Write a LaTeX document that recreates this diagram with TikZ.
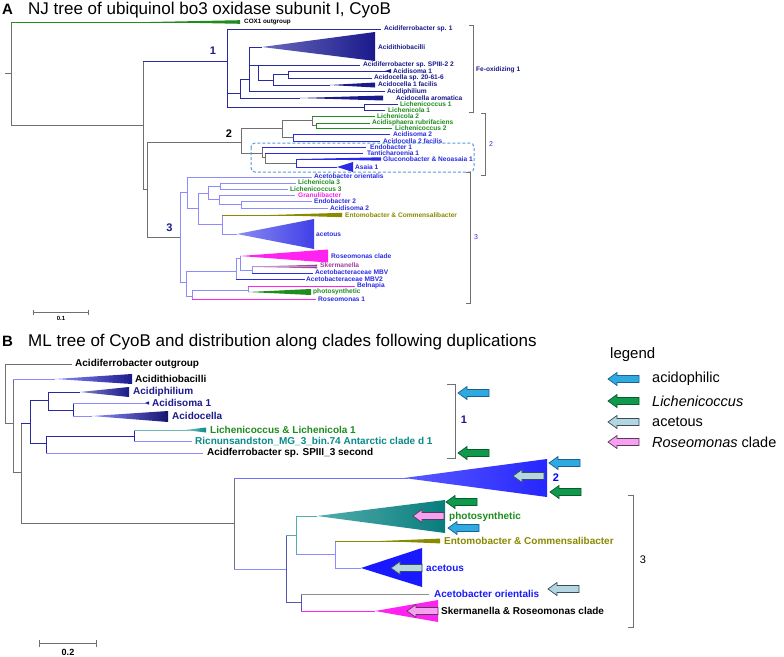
\documentclass[tikz,border=0pt]{standalone}
\usepackage{fontspec}
\setmainfont{Liberation Sans}
\definecolor{gr}{HTML}{707070}
\definecolor{nv}{HTML}{2A2AA0}
\definecolor{nvT}{HTML}{1A1A8C}
\definecolor{clt}{HTML}{8C8CFF}
\definecolor{bl}{HTML}{2B2BE6}
\definecolor{grn}{HTML}{1E8C1E}
\definecolor{mag}{HTML}{FF22F0}
\definecolor{olv}{HTML}{8A8A00}
\definecolor{tea}{HTML}{0A8A8A}
\definecolor{purp}{HTML}{A040A0}
\definecolor{dbox}{HTML}{5A9BD5}
\definecolor{acidF}{HTML}{2EAAE1}
\definecolor{acidD}{HTML}{1D5F8F}
\definecolor{lichF}{HTML}{0E9A4A}
\definecolor{lichD}{HTML}{0A5A30}
\definecolor{aceF}{HTML}{B4D6E0}
\definecolor{aceD}{HTML}{3A4A5A}
\definecolor{roseF}{HTML}{F7A0F2}
\definecolor{roseD}{HTML}{5A3A5A}
\newcommand\bkarrow[4]{\draw[fill=#3,draw=#4,line width=0.7pt,line join=miter] (#1,#2) -- ++(9,-6.5) -- ++(0,3) -- ++(22,0) -- ++(0,7) -- ++(-22,0) -- ++(0,3) -- cycle;}
\begin{document}
\begin{tikzpicture}[x=1pt,y=-1pt,
  ln/.style={line width=0.9pt},
  lb/.style={line width=1pt},
  labA/.style={anchor=west,inner sep=0pt,font=\bfseries\fontsize{6.6}{6.6}\selectfont},
  labB/.style={anchor=west,inner sep=0pt,font=\bfseries\fontsize{10}{10}\selectfont},
  brk/.style={gr,line width=0.7pt},
  cnum/.style={inner sep=0pt,font=\bfseries\fontsize{11}{11}\selectfont},
  legt/.style={anchor=west,inner sep=0pt,font=\fontsize{14.5}{15}\selectfont}]
\useasboundingbox (0,0) rectangle (784,656);
\fill[white] (0,0) rectangle (784,656);

% ================= Panel A =================
\node[anchor=base west,inner sep=0pt,font=\bfseries\fontsize{15}{15}\selectfont] (tA) at (2,14) {A};
\node[anchor=base west,inner sep=0pt,font=\fontsize{17}{17}\selectfont] (ttA) at (28,14) {NJ tree of ubiquinol bo3 oxidase subunit I, CyoB};

\draw[ln,gr] (5,73) -- (11,73);
\draw[ln,gr] (11,22) -- (11,125);
\draw[ln,grn] (11,22) -- (240,22);
\fill[grn] (150,22) -- (240,20.2) -- (240,23.8) -- cycle;
\node[labA,font=\bfseries\fontsize{6.3}{6.3}\selectfont] (cox) at (244,22) {COX1 outgroup};
\draw[ln,gr] (11,125) -- (143,125);
\draw[ln,gr] (143,61) -- (143,189);
\draw[ln,gr] (143,189) -- (147,189);
\draw[ln,gr] (147,142) -- (147,237);

% clade 1
\draw[ln,nv] (143,61) -- (227,61);
\node[cnum,text=nvT] (n1) at (213,51) {1};
\draw[ln,nv] (227,29) -- (227,107);
\draw[ln,nv] (227,29) -- (381,29);
\node[labA,text=nvT] (a1) at (384,29) {Acidiferrobacter sp. 1};
\draw[ln,nv] (227,93) -- (240,93);
\draw[ln,nv] (240,79) -- (240,98);
\draw[ln,nv] (240,98) -- (300,98);
\fill[nvT] (300,98) -- (383,95.5) -- (383,100.5) -- cycle;
\node[labA,text=nvT] (a2) at (396,98) {Acidocella aromatica};
\draw[ln,nv] (240,79) -- (249,79);
\draw[ln,nv] (249,47) -- (249,91);
\draw[ln,nv] (249,47) -- (262,47);
\shade[left color=nv!70,right color=nvT] (262,47) -- (375,32) -- (375,61) -- cycle;
\node[labA,text=nvT] (a3) at (378,47) {Acidithiobacilli};
\draw[ln,nv] (249,65) -- (258,65);
\draw[ln,nv] (258,65) -- (258,80);
\draw[ln,nv] (258,65) -- (360,65);
\node[labA,text=nvT] (a4) at (363,65) {Acidiferrobacter sp. SPIII-2 2};
\draw[ln,nv] (258,80) -- (273,80);
\draw[ln,nv] (273,74) -- (273,85);
\draw[ln,nv] (273,74) -- (288,74);
\draw[ln,nv] (288,71) -- (288,78);
\draw[ln,nv] (288,71) -- (387,71);
\fill[nvT] (385,71) -- (391,69) -- (391,73) -- cycle;
\node[labA,text=nvT] (a5) at (393,71) {Acidisoma 1};
\draw[ln,nv] (288,78) -- (372,78);
\node[labA,text=nvT] (a6) at (374,78) {Acidocella sp. 20-61-6};
\draw[ln,nv] (273,85) -- (330,85);
\fill[nvT] (330,85) -- (375,82.5) -- (375,87.5) -- cycle;
\node[labA,text=nvT] (a7) at (378,84.5) {Acidocella 1 facilis};
\draw[ln,nv] (249,91) -- (385,91);
\node[labA,text=nvT] (a8) at (387,91.5) {Acidiphilium};
\draw[ln,nv] (227,107) -- (364,107);
\draw[ln,nv] (364,104) -- (364,110);
\draw[ln,nv] (364,104) -- (398,104);
\node[labA,text=grn] (a9) at (400,104) {Lichenicoccus 1};
\draw[ln,nv] (364,110) -- (385,110);
\node[labA,text=grn] (a10) at (388,110.5) {Lichenicola 1};
\draw[brk] (469,25) -- (473,25) -- (473,112) -- (469,112);
\node[labA,text=nvT] (fe) at (476,70) {Fe-oxidizing 1};

% clade 2
\draw[ln,gr] (147,142) -- (241,142);
\node[cnum,text=black] (n2) at (229,133.5) {2};
\draw[ln,gr] (241,128) -- (241,153);
\draw[ln,gr] (241,128) -- (282,128);
\draw[ln,gr] (282,120) -- (282,137);
\draw[ln,gr] (282,120) -- (312,120);
\draw[ln,gr] (312,116) -- (312,125);
\draw[ln,grn] (312,116) -- (375,116);
\node[labA,text=grn] (b1) at (377,116) {Lichenicola 2};
\draw[ln,gr] (312,125) -- (316,125);
\draw[ln,grn] (316,123) -- (316,128);
\draw[ln,grn] (316,123) -- (370,123);
\node[labA,text=grn] (b2) at (372,122.5) {Acidisphaera rubrifaciens};
\draw[ln,grn] (316,128) -- (392,128);
\node[labA,text=grn] (b3) at (395,128.5) {Lichenicoccus 2};
\draw[ln,gr] (282,137) -- (293,137);
\draw[ln,bl] (293,134) -- (293,141);
\draw[ln,bl] (293,134) -- (390,134);
\node[labA,text=bl] (b4) at (393,134.5) {Acidisoma 2};
\draw[ln,bl] (293,141) -- (380,141);
\node[labA,text=bl] (b5) at (383,141) {Acidocella 2 facilis};
\draw[ln,gr] (241,153) -- (262,153);
\draw[ln,gr] (262,147) -- (262,157);
\draw[ln,bl] (262,147) -- (366,147);
\node[labA,text=bl] (b6) at (370,147) {Endobacter 1};
\draw[ln,gr] (262,157) -- (265,157);
\draw[ln,gr] (265,153) -- (265,163);
\draw[ln,bl] (265,153) -- (363,153);
\node[labA,text=bl] (b7) at (367,153) {Tanticharoenia 1};
\draw[ln,gr] (265,163) -- (296,163);
\draw[ln,bl] (296,159) -- (296,167);
\draw[ln,bl] (296,159) -- (381,159);
\fill[bl] (300,159) -- (381,157.3) -- (381,160.7) -- cycle;
\node[labA,text=bl] (b8) at (383,159) {Gluconobacter \& Neoasaia 1};
\draw[ln,bl] (296,167) -- (337,167);
\fill[bl] (337,167) -- (353,162) -- (353,172) -- cycle;
\node[labA,text=bl] (b9) at (355,167) {Asaia 1};
\draw[dbox,dashed,line width=1pt,rounded corners=4pt,dash pattern=on 3pt off 2pt] (251,143) rectangle (474,172);
\draw[brk] (481,113) -- (485,113) -- (485,175) -- (481,175);
\node[labA,text=bl,font=\fontsize{7}{7}\selectfont] (br2) at (489,144) {2};

% clade 3
\draw[ln,gr] (147,237) -- (180,237);
\node[cnum,text=nvT] (n3) at (169.5,227.5) {3};
\draw[ln,clt] (180,192) -- (180,282);
\draw[ln,clt] (180,192) -- (187,192);
\draw[ln,clt] (187,177) -- (187,208);
\draw[ln,clt] (187,177) -- (312,177);
\node[labA,text=bl] (c1) at (314,176.5) {Acetobacter orientalis};
\draw[ln,clt] (187,208) -- (198,208);
\draw[ln,clt] (198,193) -- (198,224);
\draw[ln,clt] (198,193) -- (208,193);
\draw[ln,clt] (208,186) -- (208,199);
\draw[ln,clt] (208,186) -- (220,186);
\draw[ln,clt] (220,183) -- (220,189);
\draw[ln,clt] (220,183) -- (296,183);
\node[labA,text=grn] (c2) at (298,182.5) {Lichenicola 3};
\draw[ln,clt] (220,189) -- (288,189);
\node[labA,text=grn] (c3) at (290,189) {Lichenicoccus 3};
\draw[ln,clt] (208,199) -- (219,199);
\draw[ln,clt] (219,195) -- (219,204);
\draw[ln,clt] (219,195) -- (295,195);
\node[labA,text=mag] (c4) at (298,195) {Granulibacter};
\draw[ln,clt] (219,204) -- (241,204);
\draw[ln,clt] (241,201) -- (241,208);
\draw[ln,clt] (241,201) -- (312,201);
\node[labA,text=bl] (c5) at (314,201.5) {Endobacter 2};
\draw[ln,clt] (241,208) -- (328,208);
\node[labA,text=bl] (c6) at (330,208) {Acidisoma 2};
\draw[ln,clt] (198,224) -- (222,224);
\draw[ln,clt] (222,215) -- (222,234);
\draw[ln,olv] (222,215) -- (342,215);
\fill[olv] (270,215) -- (342,212.8) -- (342,217.2) -- cycle;
\node[labA,text=olv] (c7) at (345,215) {Entomobacter \& Commensalibacter};
\draw[ln,clt] (222,234) -- (237,234);
\shade[left color=bl!55,right color=bl!90] (237,234) -- (314,219) -- (314,249) -- cycle;
\node[labA,text=bl] (c8) at (316,234) {acetous};
\draw[ln,clt] (180,282) -- (186,282);
\draw[ln,clt] (186,271) -- (186,296);
\draw[ln,clt] (186,271) -- (236,271);
\draw[ln,clt] (236,258) -- (236,279);
\draw[ln,clt] (236,258) -- (240,258);
\draw[ln,clt] (240,256) -- (240,270);
\fill[mag] (240,256) -- (328,249.5) -- (328,262.5) -- cycle;
\node[labA,text=bl] (c9) at (331,256) {Roseomonas clade};
\draw[ln,clt] (240,270) -- (252,270);
\draw[ln,clt] (252,266) -- (252,273);
\shade[left color=purp!40,right color=purp!90!black] (252,266.5) -- (317,264.7) -- (317,268.3) -- (252,267) -- cycle;
\draw[line width=0.6pt,purp!60] (252,266.5) -- (317,266.5);
\node[labA,text=purp] (c10) at (320,265.5) {Skermanella};
\draw[ln,bl] (252,273) -- (313,273);
\node[labA,text=bl] (c11) at (315,272.5) {Acetobacteraceae MBV};
\draw[ln,bl] (236,279) -- (305,279);
\node[labA,text=bl] (c12) at (306,279) {Acetobacteraceae MBV2};
\draw[ln,clt] (186,296) -- (192,296);
\draw[ln,clt] (192,290) -- (192,299);
\draw[ln,clt] (192,290) -- (248,290);
\draw[ln,clt] (248,286) -- (248,292);
\draw[ln,mag] (248,286) -- (355,286);
\node[labA,text=bl] (c13) at (357,285.5) {Belnapia};
\fill[grn] (248,292) -- (311,289) -- (311,295) -- cycle;
\node[labA,text=grn] (c14) at (313,292) {photosynthetic};
\draw[ln,mag] (192,299) -- (316,299);
\node[labA,text=bl] (c15) at (318,299) {Roseomonas 1};
\draw[brk] (466,172) -- (470,172) -- (470,303) -- (466,303);
\node[labA,text=bl,font=\fontsize{7}{7}\selectfont] (br3) at (474,237) {3};

% scale A
\draw[brk] (33,312) -- (88,312);
\draw[brk] (33,309.5) -- (33,314.5);
\draw[brk] (88,309.5) -- (88,314.5);
\node[inner sep=0pt,font=\bfseries\fontsize{6}{6}\selectfont] (sA) at (61,318.5) {0.1};

% ================= Panel B =================
\node[anchor=base west,inner sep=0pt,font=\bfseries\fontsize{15}{15}\selectfont] (tB) at (2,346) {B};
\node[anchor=base west,inner sep=0pt,font=\fontsize{17}{17}\selectfont] (ttB) at (28,346) {ML tree of CyoB and distribution along clades following duplications};

\draw[lb,gr] (5,364) -- (72,364);
\node[labB,text=black] (o1) at (75,364) {Acidiferrobacter outgroup};
\draw[lb,gr] (5,364) -- (5,423);
\draw[lb,gr] (5,423) -- (13,423);
\draw[lb,gr] (13,379) -- (13,472);
\draw[lb,clt] (13,379) -- (55,379);
\shade[left color=clt,right color=nvT] (55,379) -- (132,374) -- (132,384) -- cycle;
\node[labB,text=black] (d1) at (135,379) {Acidithiobacilli};
\draw[lb,gr] (13,472) -- (21,472);
\draw[lb,gr] (21,423) -- (21,523);
\draw[lb,nv] (21,423) -- (30,423);
\draw[lb,nv] (30,400) -- (30,443);
\draw[lb,nv] (30,400) -- (48,400);
\draw[lb,nv] (48,392) -- (48,410);
\draw[lb,nv] (48,392) -- (80,392);
\shade[left color=nv!60,right color=nvT] (80,392) -- (129,387) -- (129,397) -- cycle;
\node[labB,text=nvT] (d2) at (133,391.5) {Acidiphilium};
\draw[lb,nv] (48,410) -- (73,410);
\draw[lb,nv] (73,403) -- (73,416);
\draw[lb,clt] (73,403) -- (146,403);
\fill[nvT] (145,403) -- (149,401.3) -- (149,404.7) -- cycle;
\node[labB,text=nvT] (d3) at (152,403) {Acidisoma 1};
\draw[lb,clt] (73,416) -- (92,416);
\shade[left color=clt,right color=nvT!80!black] (92,416) -- (168,411) -- (168,422) -- cycle;
\node[labB,text=nvT] (d4) at (172,416) {Acidocella};
\draw[lb,nv] (30,443) -- (46,443);
\draw[lb,nv] (46,436) -- (46,453);
\draw[lb,nv] (46,436) -- (134,436);
\draw[lb,nv] (134,430) -- (134,441);
\draw[lb,tea!60] (134,430) -- (190,430);
\shade[left color=tea!50,right color=tea] (185,430) -- (206,427.5) -- (206,432.5) -- cycle;
\node[labB,text=grn] (d5) at (210,430) {Lichenicoccus \& Lichenicola 1};
\draw[lb,clt] (134,441) -- (192,441);
\node[labB,text=tea] (d6) at (195,441) {Ricnunsandston\_MG\_3\_bin.74 Antarctic clade d 1};
\draw[lb,clt] (46,453) -- (203,453);
\node[labB,text=black] (d7) at (207,453) {Acidferrobacter sp. SPIII\_3 second};
\draw[brk,line width=0.9pt] (447,384) -- (455,384) -- (455,458) -- (447,458);
\node[cnum,text=nvT] (m1) at (464,420) {1};
\bkarrow{458}{393}{acidF}{acidD}
\bkarrow{458}{453}{lichF}{lichD}

% clade 2 and 3 (B)
\draw[lb,gr] (21,523) -- (234,523);
\draw[lb,gr] (234,478) -- (234,569);
\draw[lb,clt!80!blue] (234,478) -- (408,478);
\shade[left color=blue!65,right color=blue!85] (404,478) -- (547,459) -- (547,497) -- cycle;
\node[cnum,text=blue,font=\bfseries\fontsize{11}{11}\selectfont] (m2) at (556,478) {2};
\bkarrow{513}{476}{aceF}{aceD}
\bkarrow{549}{463}{acidF}{acidD}
\bkarrow{550}{492}{lichF}{lichD}
\draw[lb,clt] (234,569) -- (286,569);
\draw[lb,nv!80] (286,535) -- (286,602);
\draw[lb,tea!70] (286,535) -- (296,535);
\draw[lb,tea!70] (296,516) -- (296,554);
\draw[lb,tea!70] (296,516) -- (317,516);
\shade[left color=tea!70,right color=tea!90!black] (317,516) -- (445,500) -- (445,533) -- cycle;
\node[labB,text=grn] (e1) at (449,516.5) {photosynthetic};
\bkarrow{446}{502}{lichF}{lichD}
\bkarrow{413}{516}{roseF}{roseD}
\bkarrow{448}{528}{acidF}{acidD}
\draw[lb,clt] (296,554) -- (335,554);
\draw[lb,clt] (335,541) -- (335,568);
\draw[lb,olv] (335,541) -- (440,541);
\fill[olv] (380,541) -- (440,538.6) -- (440,543.4) -- cycle;
\node[labB,text=olv] (e2) at (444,541) {Entomobacter \& Commensalibacter};
\draw[lb,clt] (335,568) -- (361,568);
\fill[blue!90] (361,568) -- (422,548) -- (422,587) -- cycle;
\node[labB,text=blue!90] (e3) at (426,568) {acetous};
\bkarrow{391}{568}{aceF}{aceD}
\draw[lb,nv!80] (286,602) -- (301,602);
\draw[lb,nv!80] (301,594) -- (301,611);
\draw[lb,gr!80] (301,594) -- (429,594);
\node[labB,text=blue!90] (e4) at (434,594) {Acetobacter orientalis};
\bkarrow{548}{589}{aceF}{aceD}
\draw[lb,mag] (301,611) -- (375,611);
\fill[mag] (375,611) -- (438,600) -- (438,622) -- cycle;
\node[labB,text=black] (e5) at (441,611) {Skermanella \& Roseomonas clade};
\bkarrow{407}{611}{roseF}{roseD}
\draw[brk,line width=0.9pt] (628,495) -- (633,495) -- (633,627) -- (628,627);
\node[inner sep=0pt,font=\fontsize{11}{11}\selectfont] (m3) at (643,560) {3};

% scale B
\draw[brk,line width=0.9pt] (39,643) -- (96,643);
\draw[brk,line width=0.9pt] (39,639.5) -- (39,646.5);
\draw[brk,line width=0.9pt] (96,639.5) -- (96,646.5);
\node[inner sep=0pt,font=\bfseries\fontsize{9}{9}\selectfont] (sB) at (68,652) {0.2};

% legend
\node[anchor=base west,inner sep=0pt,font=\fontsize{15}{15}\selectfont] (leg) at (610,358) {legend};
\bkarrow{608}{379}{acidF}{acidD}
\node[legt] (l1) at (652,379) {acidophilic};
\bkarrow{608}{401}{lichF}{lichD}
\node[legt] (l2) at (652,401) {\itshape Lichenicoccus};
\bkarrow{608}{422}{aceF}{aceD}
\node[legt] (l3) at (652,422) {acetous};
\bkarrow{608}{442}{roseF}{roseD}
\node[legt] (l4) at (652,442) {\itshape Roseomonas\upshape{} clade};
\end{tikzpicture}
\end{document}
